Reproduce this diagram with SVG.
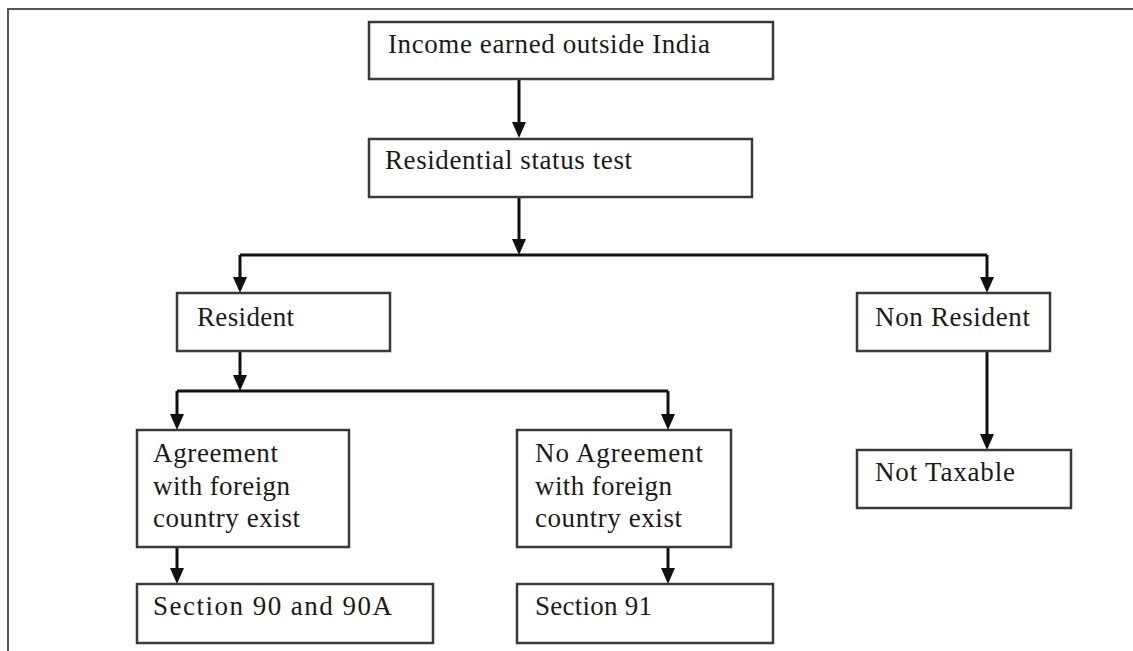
<svg xmlns="http://www.w3.org/2000/svg" width="1133" height="651" viewBox="0 0 1133 651">
<style>
.box{fill:#fff;stroke:#3a3a3a;stroke-width:2.5}
.t{font-family:"Liberation Serif","Times New Roman",serif;font-size:27px;fill:#1a1a1a}
.c{stroke:#111;stroke-width:3;fill:none}
.frame{stroke:#555;stroke-width:2;fill:none}
</style>
<rect width="1133" height="651" fill="#fff"/>
<path class="frame" d="M8,651 L8,9 L1133,9"/>
<g id="connectors">
<path class="c" d="M519,79 L519,124"/>
<path class="c" d="M519,197 L519,241"/>
<path class="c" d="M240,255 L987,255"/>
<path class="c" d="M240,255 L240,279"/>
<path class="c" d="M987,255 L987,279"/>
<path class="c" d="M240,351 L240,377"/>
<path class="c" d="M177,391 L668,391"/>
<path class="c" d="M177,391 L177,416"/>
<path class="c" d="M668,391 L668,416"/>
<path class="c" d="M987,351 L987,436"/>
<path class="c" d="M177,547 L177,570"/>
<path class="c" d="M668,547 L668,570"/>
<g fill="#111">
<path d="M512,122 L526,122 L519,138 Z"/>
<path d="M512,239 L526,239 L519,255 Z"/>
<path d="M233,277 L247,277 L240,293 Z"/>
<path d="M980,277 L994,277 L987,293 Z"/>
<path d="M233,375 L247,375 L240,391 Z"/>
<path d="M170,414 L184,414 L177,430 Z"/>
<path d="M661,414 L675,414 L668,430 Z"/>
<path d="M980,434 L994,434 L987,450 Z"/>
<path d="M170,568 L184,568 L177,584 Z"/>
<path d="M661,568 L675,568 L668,584 Z"/>
</g>
</g>
<g id="income"><rect class="box" x="369" y="22" width="404" height="57"/><text class="t" x="388" y="53" textLength="322">Income earned outside India</text></g>
<g id="residential"><rect class="box" x="369" y="139" width="383" height="58"/><text class="t" x="385" y="169" textLength="247">Residential status test</text></g>
<g id="resident"><rect class="box" x="177" y="293" width="213" height="58"/><text class="t" x="197" y="326" textLength="97">Resident</text></g>
<g id="nonresident"><rect class="box" x="857" y="293" width="193" height="58"/><text class="t" x="875" y="326" textLength="155">Non Resident</text></g>
<g id="agreement"><rect class="box" x="137" y="430" width="212" height="117"/><text class="t" x="153" y="462" textLength="125">Agreement</text><text class="t" x="153" y="495" textLength="137">with foreign</text><text class="t" x="153" y="527" textLength="147">country exist</text></g>
<g id="noagreement"><rect class="box" x="517" y="430" width="214" height="117"/><text class="t" x="535" y="462" textLength="168">No Agreement</text><text class="t" x="535" y="495" textLength="137">with foreign</text><text class="t" x="535" y="527" textLength="147">country exist</text></g>
<g id="nottaxable"><rect class="box" x="857" y="450" width="214" height="58"/><text class="t" x="875" y="481" textLength="140">Not Taxable</text></g>
<g id="sec90"><rect class="box" x="137" y="584" width="296" height="59"/><text class="t" x="153" y="615" textLength="239">Section 90 and 90A</text></g>
<g id="sec91"><rect class="box" x="517" y="584" width="256" height="59"/><text class="t" x="535" y="615" textLength="117">Section 91</text></g>
</svg>
